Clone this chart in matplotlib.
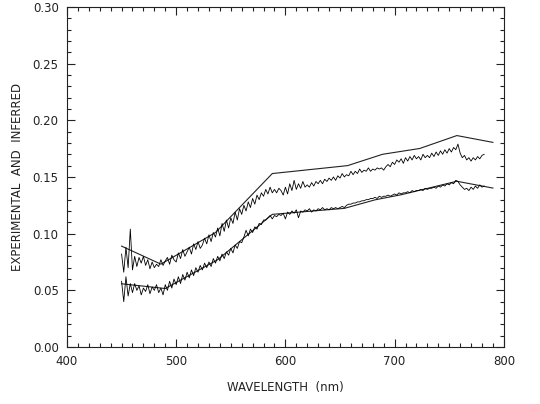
import numpy as np
import matplotlib.pyplot as plt
from matplotlib.ticker import MultipleLocator, FormatStrFormatter

# ----------------------------
# Data
# ----------------------------
# inferred (model) curves: piecewise straight segments
model_hi_wl = [450, 486, 536, 588, 657, 689, 723, 757, 790]
model_hi = [0.0890, 0.0731, 0.1010, 0.1530, 0.1600, 0.1700, 0.1751, 0.1865, 0.1805]

model_lo_wl = [450, 490, 538, 588, 654, 682, 706, 757, 790]
model_lo = [0.0558, 0.0516, 0.0770, 0.1170, 0.1223, 0.1298, 0.1343, 0.1462, 0.1402]

# experimental spectra, 2 nm sampling from 450 to 782 nm
exp_wl = np.arange(450, 784, 2)

exp_hi = [
    0.082, 0.066, 0.088, 0.070, 0.104, 0.068, 0.080, 0.071, 0.079, 0.074,  # 450-468
    0.080, 0.072, 0.077, 0.069, 0.075, 0.070, 0.073, 0.071, 0.077, 0.072,  # 470-488
    0.076, 0.079, 0.073, 0.081, 0.077, 0.075, 0.083, 0.078, 0.086, 0.080,  # 490-508
    0.084, 0.088, 0.082, 0.091, 0.086, 0.093, 0.087, 0.090, 0.096, 0.091,  # 510-528
    0.099, 0.093, 0.101, 0.097, 0.105, 0.098, 0.109, 0.102, 0.112, 0.105,  # 530-548
    0.114, 0.109, 0.119, 0.112, 0.122, 0.117, 0.125, 0.120, 0.128, 0.123,  # 550-568
    0.131, 0.126, 0.134, 0.130, 0.136, 0.133, 0.139, 0.135, 0.141, 0.136,  # 570-588
    0.139, 0.136, 0.140, 0.138, 0.134, 0.141, 0.135, 0.144, 0.138, 0.147,  # 590-608
    0.139, 0.144, 0.140, 0.146, 0.141, 0.143, 0.141, 0.145, 0.142, 0.146,  # 610-628
    0.144, 0.147, 0.144, 0.148, 0.146, 0.149, 0.147, 0.150, 0.147, 0.151,  # 630-648
    0.149, 0.153, 0.150, 0.152, 0.151, 0.155, 0.152, 0.155, 0.153, 0.157,  # 650-668
    0.154, 0.156, 0.155, 0.158, 0.155, 0.157, 0.156, 0.158, 0.157, 0.158,  # 670-688
    0.156, 0.159, 0.161, 0.159, 0.163, 0.161, 0.165, 0.163, 0.166, 0.162,  # 690-708
    0.167, 0.164, 0.168, 0.165, 0.169, 0.166, 0.168, 0.165, 0.170, 0.167,  # 710-728
    0.169, 0.167, 0.171, 0.168, 0.172, 0.169, 0.173, 0.170, 0.174, 0.171,  # 730-748
    0.175, 0.172, 0.176, 0.174, 0.179, 0.171, 0.167, 0.169, 0.165, 0.167,  # 750-768
    0.164, 0.167, 0.165, 0.168, 0.166, 0.169, 0.170,                       # 770-782
]

exp_lo = [
    0.058, 0.040, 0.062, 0.045, 0.056, 0.048, 0.056, 0.050, 0.054, 0.046,  # 450-468
    0.052, 0.049, 0.055, 0.047, 0.053, 0.050, 0.055, 0.048, 0.052, 0.046,  # 470-488
    0.055, 0.050, 0.058, 0.052, 0.060, 0.055, 0.062, 0.056, 0.064, 0.059,  # 490-508
    0.066, 0.061, 0.068, 0.063, 0.070, 0.066, 0.072, 0.068, 0.074, 0.070,  # 510-528
    0.075, 0.071, 0.078, 0.074, 0.080, 0.076, 0.082, 0.078, 0.084, 0.081,  # 530-548
    0.087, 0.083, 0.090, 0.087, 0.093, 0.092, 0.097, 0.103, 0.098, 0.104,  # 550-568
    0.101, 0.106, 0.104, 0.109, 0.108, 0.112, 0.112, 0.114, 0.116, 0.113,  # 570-588
    0.116, 0.115, 0.117, 0.116, 0.118, 0.113, 0.119, 0.117, 0.120, 0.118,  # 590-608
    0.121, 0.114, 0.120, 0.119, 0.121, 0.120, 0.122, 0.119, 0.121, 0.120,  # 610-628
    0.122, 0.121, 0.123, 0.121, 0.122, 0.121, 0.123, 0.122, 0.123, 0.122,  # 630-648
    0.123, 0.124, 0.123, 0.125, 0.126, 0.126, 0.127, 0.127, 0.128, 0.128,  # 650-668
    0.129, 0.129, 0.130, 0.130, 0.131, 0.131, 0.132, 0.131, 0.133, 0.132,  # 670-688
    0.133, 0.133, 0.134, 0.133, 0.134, 0.135, 0.134, 0.136, 0.135, 0.136,  # 690-708
    0.136, 0.137, 0.136, 0.138, 0.137, 0.138, 0.138, 0.139, 0.138, 0.140,  # 710-728
    0.139, 0.140, 0.140, 0.141, 0.140, 0.142, 0.141, 0.143, 0.142, 0.144,  # 730-748
    0.143, 0.145, 0.144, 0.147, 0.146, 0.143, 0.141, 0.139, 0.140, 0.138,  # 750-768
    0.141, 0.139, 0.142, 0.140, 0.143, 0.141, 0.142,                       # 770-782
]

INK = "#222222"


def main():
    plt.rcParams["font.family"] = "DejaVu Sans"
    fig = plt.figure(figsize=(5.4, 4.04), dpi=100)
    ax = fig.add_axes([0.124, 0.141, 0.809, 0.842])

    ax.plot(model_hi_wl, model_hi, color=INK, linewidth=0.8)
    ax.plot(model_lo_wl, model_lo, color=INK, linewidth=0.8)
    ax.plot(exp_wl, exp_hi, color="black", linewidth=0.6)
    ax.plot(exp_wl, exp_lo, color="black", linewidth=0.6)

    ax.set_xlim(400, 800)
    ax.set_ylim(0.0, 0.30)
    ax.xaxis.set_major_locator(MultipleLocator(100))
    ax.xaxis.set_minor_locator(MultipleLocator(10))
    ax.yaxis.set_major_locator(MultipleLocator(0.05))
    ax.yaxis.set_minor_locator(MultipleLocator(0.01))
    ax.yaxis.set_major_formatter(FormatStrFormatter("%.2f"))

    ax.tick_params(which="both", direction="in", top=True, right=True,
                   colors=INK, width=0.8, labelsize=8.5, labelcolor=INK)
    ax.tick_params(which="major", length=6, pad=6)
    ax.tick_params(which="minor", length=3)
    for s in ax.spines.values():
        s.set_color(INK)
        s.set_linewidth(0.8)

    ax.set_xlabel("WAVELENGTH  (nm)", fontsize=8.5, color=INK, labelpad=9)
    ax.set_ylabel("EXPERIMENTAL  AND  INFERRED", fontsize=8.5, color=INK,
                  labelpad=6)

    fig.savefig("out.png", dpi=100)


if __name__ == "__main__":
    main()
